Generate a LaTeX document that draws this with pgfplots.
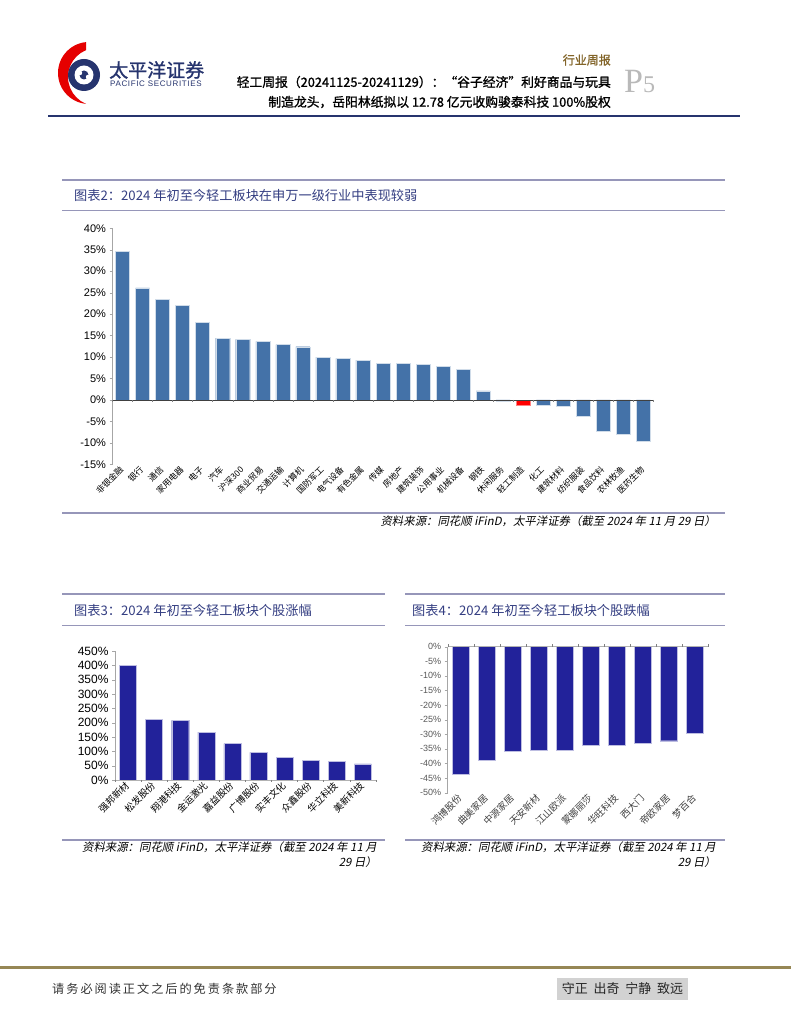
\documentclass[border=0pt]{standalone}
\usepackage{pgfplots}
\pgfplotsset{compat=1.18}
\usepackage{fontspec}
\setmainfont{Liberation Sans}
\newfontfamily\cjk{Noto Sans CJK SC}
\newfontfamily\cjkb[FakeBold=1.2]{Noto Sans CJK SC}
\newfontfamily\cjki[FakeSlant=0.2]{Noto Sans CJK SC}
\newfontfamily\cjkf[LetterSpace=16]{Noto Sans CJK SC}
\newfontfamily\pfont{Liberation Serif}
\definecolor{barblue}{RGB}{68,114,168}
\definecolor{navybar}{RGB}{34,34,154}
\definecolor{ttl}{RGB}{52,62,130}
\definecolor{rulec}{RGB}{150,150,185}
\definecolor{hdr}{RGB}{38,52,110}
\definecolor{olivec}{RGB}{150,135,85}
\definecolor{hdrbrown}{RGB}{130,100,40}
\newcommand{\fs}[1]{\fontsize{#1}{#1}\selectfont}

\pgfplotsset{
  pagebars/.style={
    scale only axis,
    axis y line*=left, axis x line*=bottom,
    x axis line style={draw=none},
    y axis line style={draw=gray!70, line width=0.6pt},
    tick align=outside,
    major tick length=3pt,
    y tick style={gray!70},
    x tick style={draw=none},
    /pgf/number format/assume math mode=true,
    yticklabel={\pgfmathprintnumber{\tick}\%},
    xticklabel style={rotate=45, anchor=east, inner sep=1pt},
    ybar,
    clip=false,
  }
}

\begin{document}
\begin{tikzpicture}
\begin{scope}[x=1pt,y=1pt]
\path[use as bounding box, fill=white] (0,0) rectangle (791,1024);

% header logo
\begin{scope}
  \clip (40,900) rectangle (86,990);
  \fill[red!90!black, even odd rule] (89,951) circle (31) (97,947) circle (29);
\end{scope}
\fill[hdr] (84,949) circle (16);
\fill[white] (84,949) circle (9.5);
\fill[hdr] (84,949) circle (4.5);
\fill[white] (80,951) circle (2.2);
\fill[white] (88,947) circle (2.2);
\node[anchor=west, text=hdr, inner sep=0] at (109,954) {\cjkb\fs{19}太平洋证券};
\node[anchor=west, text=hdr, inner sep=0] at (110,940) {\fs{8}\addfontfeature{LetterSpace=8}PACIFIC SECURITIES};

\node[anchor=east, text=hdrbrown, inner sep=0] at (611,964) {\cjkb\fs{12}行业周报};
\node[anchor=east, inner sep=0] at (611,942) {\cjkb\fs{12.8}轻工周报（20241125-20241129）：“谷子经济”利好商品与玩具};
\node[anchor=east, inner sep=0] at (611,922) {\cjkb\fs{12.8}制造龙头，岳阳林纸拟以 12.78 亿元收购骏泰科技 100\%股权};
\node[anchor=west, text=gray!55, inner sep=0] at (624,942) {\pfont\fs{34}P\fs{24}5};
\draw[hdr, line width=2.5pt] (48,908) -- (740,908);

% chart 2 frame
\draw[rulec, line width=1.2pt] (62,844) -- (725,844);
\draw[rulec, line width=0.8pt] (62,814) -- (725,814);
\draw[rulec, line width=1.2pt] (62,511) -- (725,511);
\node[anchor=west, text=ttl, inner sep=0] at (74,829) {\cjk\fs{13.2}图表2：2024 年初至今轻工板块在申万一级行业中表现较弱};
\node[anchor=east, inner sep=0] at (716,503) {\cjki\fs{11.4}资料来源：同花顺 iFinD，太平洋证券（截至 2024 年 11 月 29 日）};

% chart 3 frame
\draw[rulec, line width=1.2pt] (62,430) -- (385,430);
\draw[rulec, line width=0.8pt] (62,399) -- (385,399);
\draw[rulec, line width=1.2pt] (62,184) -- (385,184);
\node[anchor=west, text=ttl, inner sep=0] at (74,414) {\cjk\fs{13.2}图表3：2024 年初至今轻工板块个股涨幅};
\node[anchor=east, inner sep=0] at (377,177) {\cjki\fs{11.4}资料来源：同花顺 iFinD，太平洋证券（截至 2024 年 11 月};
\node[anchor=east, inner sep=0] at (377,162) {\cjki\fs{11.4}29 日）};

% chart 4 frame
\draw[rulec, line width=1.2pt] (405,430) -- (725,430);
\draw[rulec, line width=0.8pt] (405,399) -- (725,399);
\draw[rulec, line width=1.2pt] (405,184) -- (725,184);
\node[anchor=west, text=ttl, inner sep=0] at (412,414) {\cjk\fs{13.2}图表4：2024 年初至今轻工板块个股跌幅};
\node[anchor=east, inner sep=0] at (716,177) {\cjki\fs{11.4}资料来源：同花顺 iFinD，太平洋证券（截至 2024 年 11 月};
\node[anchor=east, inner sep=0] at (716,162) {\cjki\fs{11.4}29 日）};

% footer
\draw[olivec, line width=3pt] (0,56) -- (791,56);
\node[anchor=west, text=black!80, inner sep=0] at (52,35) {\cjkf\fs{12.2}请务必阅读正文之后的免责条款部分};
\fill[gray!35] (557,24) rectangle (688,46);
\node[text=black!85, inner sep=0] at (622.5,35) {\cjk\fs{13}守正\ \ 出奇\ \ 宁静\ \ 致远};
\end{scope}

% chart 2
\begin{axis}[pagebars,
  at={(112.5pt,559.7pt)}, anchor=south west,
  width=541pt, height=236pt,
  xmin=-0.5, xmax=26.5, ymin=-15, ymax=40,
  ytick={-15,-10,...,40},
  yticklabel style={font=\fs{11}},
  xtick={0,...,26},
  xticklabels={非银金融,银行,通信,家用电器,电子,汽车,沪深300,商业贸易,交通运输,计算机,国防军工,电气设备,有色金属,传媒,房地产,建筑装饰,公用事业,机械设备,钢铁,休闲服务,轻工制造,化工,建筑材料,纺织服装,食品饮料,农林牧渔,医药生物},
  xticklabel style={font=\cjk\fs{8.5}},
  bar width=14pt,
]
\addplot[fill=barblue, draw=white!75!barblue, bar shift=0pt] coordinates {
  (0,34.7) (1,26.1) (2,23.5) (3,22.1) (4,18.0) (5,14.4) (6,14.1) (7,13.65)
  (8,12.9) (9,12.4) (10,10.0) (11,9.7) (12,9.3) (13,8.6) (14,8.5) (15,8.35)
  (16,7.8) (17,7.1) (18,2.1) (19,-0.2) (21,-1.3) (22,-1.4) (23,-3.9)
  (24,-7.2) (25,-8.1) (26,-9.6)
};
\addplot[fill=red, draw=red!50, bar shift=0pt] coordinates {(20,-1.2)};
\draw[gray!50!black, line width=0.6pt] (axis cs:-0.5,0) -- (axis cs:26.5,0);
\pgfplotsinvokeforeach{0,...,27}{\draw[gray] (axis cs:#1-0.5,0) -- ++(0pt,-2.5pt);}
\end{axis}

% chart 3
\begin{axis}[pagebars,
  at={(115pt,244pt)}, anchor=south west,
  width=260.8pt, height=129pt,
  xmin=-0.5, xmax=9.5, ymin=0, ymax=450,
  ytick={0,50,...,450},
  yticklabel style={font=\fs{12}},
  xtick={0,...,9},
  xticklabels={强邦新材,松发股份,翔港科技,金运激光,嘉益股份,广博股份,实丰文化,众鑫股份,华立科技,美新科技},
  xticklabel style={font=\cjk\fs{9.5}},
  bar width=17pt,
]
\addplot[fill=navybar, draw=white!70!navybar, bar shift=0pt] coordinates {
  (0,401) (1,211) (2,208) (3,167) (4,127) (5,96) (6,79) (7,68) (8,64) (9,56)
};
\draw[gray!60, line width=0.6pt] (axis cs:-0.5,0) -- (axis cs:9.5,0);
\pgfplotsinvokeforeach{0,...,10}{\draw[gray] (axis cs:#1-0.5,0) -- ++(0pt,-2.5pt);}
\end{axis}

% chart 4
\begin{axis}[pagebars,
  at={(447.7pt,231.3pt)}, anchor=south west,
  width=260.5pt, height=146pt,
  xmin=-0.5, xmax=9.5, ymin=-50, ymax=0,
  ytick={-50,-45,...,0},
  yticklabel style={font=\fs{9}, text=black!65},
  xtick={0,...,9},
  xticklabels={鸿博股份,曲美家居,中源家居,天安新材,江山欧派,蒙娜丽莎,华旺科技,西大门,帝欧家居,梦百合},
  xticklabel style={font=\cjk\fs{9.5}, text=black!75},
  bar width=17pt,
]
\addplot[fill=navybar, draw=white!70!navybar, bar shift=0pt] coordinates {
  (0,-43.7) (1,-39.0) (2,-35.8) (3,-35.6) (4,-35.4) (5,-33.8) (6,-33.7) (7,-33.1) (8,-32.2) (9,-29.5)
};
\draw[gray!60, line width=0.6pt] (axis cs:-0.5,0) -- (axis cs:9.5,0);
\pgfplotsinvokeforeach{0,...,10}{\draw[gray] (axis cs:#1-0.5,0) -- ++(0pt,2.5pt);}
\end{axis}
\end{tikzpicture}
\end{document}
